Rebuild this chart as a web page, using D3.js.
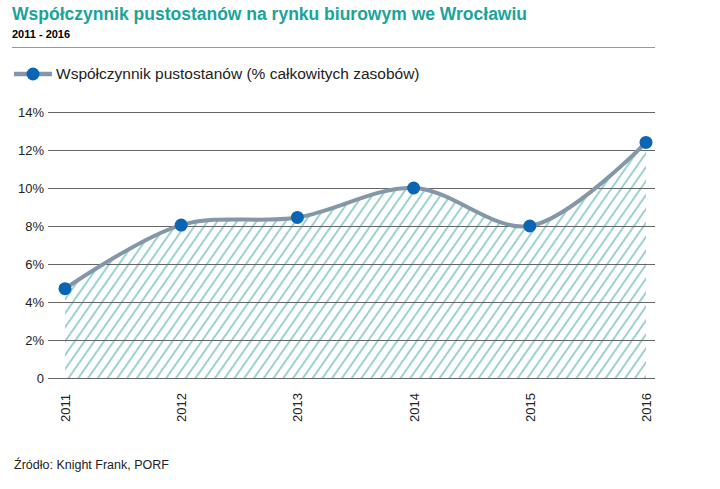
<!DOCTYPE html>
<html><head><meta charset="utf-8">
<script src="https://cdn.jsdelivr.net/npm/d3@7"></script>
<style>body{margin:0;background:#fff;font-family:"Liberation Sans",Arial,sans-serif}</style>
</head><body>
<svg id="chart" width="720" height="489"></svg>
<script>
const years = ["2011", "2012", "2013", "2014", "2015", "2016"];
const vacancy = [4.7, 8.05, 8.45, 10.0, 8.0, 12.4];
const yTicks = [0, 2, 4, 6, 8, 10, 12, 14];

const svg = d3.select("#chart");
const x = d3.scalePoint().domain(years).range([65, 646]);
const y = d3.scaleLinear().domain([0, 14]).range([378, 112]);

svg.append("text").attr("x", 12).attr("y", 20).attr("fill", "#1ba39a")
  .attr("font-size", 17.5).attr("font-weight", "bold")
  .text("Współczynnik pustostanów na rynku biurowym we Wrocławiu");
svg.append("text").attr("x", 12).attr("y", 38).attr("font-size", 11).attr("font-weight", "bold")
  .text("2011 - 2016");
svg.append("line").attr("x1", 12).attr("x2", 655).attr("y1", 47.5).attr("y2", 47.5)
  .attr("stroke", "#999");

// legend
svg.append("line").attr("x1", 14).attr("x2", 52).attr("y1", 74).attr("y2", 74)
  .attr("stroke", "#8497a8").attr("stroke-width", 4.5);
svg.append("circle").attr("cx", 33).attr("cy", 74).attr("r", 6.5).attr("fill", "#0a66b2");
svg.append("text").attr("x", 56).attr("y", 79).attr("font-size", 15.5).attr("fill", "#222")
  .text("Współczynnik pustostanów (% całkowitych zasobów)");

const defs = svg.append("defs");
const pat = defs.append("pattern").attr("id", "hatch").attr("patternUnits", "userSpaceOnUse")
  .attr("width", 8).attr("height", 8).attr("patternTransform", "rotate(35)");
pat.append("line").attr("x1", 1).attr("x2", 1).attr("y1", 0).attr("y2", 8)
  .attr("stroke", "#4aaea5").attr("stroke-width", 1.1);

const pts = years.map((d, i) => [x(d), y(vacancy[i])]);
const curve = d3.curveCatmullRom.alpha(0.5);
svg.append("path").attr("d", d3.area().x(d => d[0]).y0(y(0)).y1(d => d[1]).curve(curve)(pts))
  .attr("fill", "url(#hatch)");

// grid
svg.selectAll(".grid").data(yTicks).join("line")
  .attr("x1", 48).attr("x2", 655).attr("y1", d => y(d) + 0.5).attr("y2", d => y(d) + 0.5)
  .attr("stroke", "#666").attr("stroke-width", 1);
svg.selectAll(".ylab").data(yTicks).join("text")
  .attr("x", 44).attr("y", d => y(d) + 5).attr("text-anchor", "end")
  .attr("font-size", 13).attr("fill", "#222")
  .text(d => d === 0 ? "0" : d + "%");

svg.append("path").attr("d", d3.line().x(d => d[0]).y(d => d[1]).curve(curve)(pts))
  .attr("fill", "none").attr("stroke", "#8497a8").attr("stroke-width", 4);
svg.selectAll(".pt").data(pts).join("circle")
  .attr("cx", d => d[0]).attr("cy", d => d[1]).attr("r", 6.5).attr("fill", "#0a66b2");

svg.selectAll(".xlab").data(years).join("text")
  .attr("transform", d => `translate(${x(d) + 5},422) rotate(-90)`)
  .attr("font-size", 13).attr("fill", "#222").text(d => d);

svg.append("text").attr("x", 14).attr("y", 469).attr("font-size", 12.5).attr("fill", "#222")
  .text("Źródło: Knight Frank, PORF");
</script>
</body></html>
